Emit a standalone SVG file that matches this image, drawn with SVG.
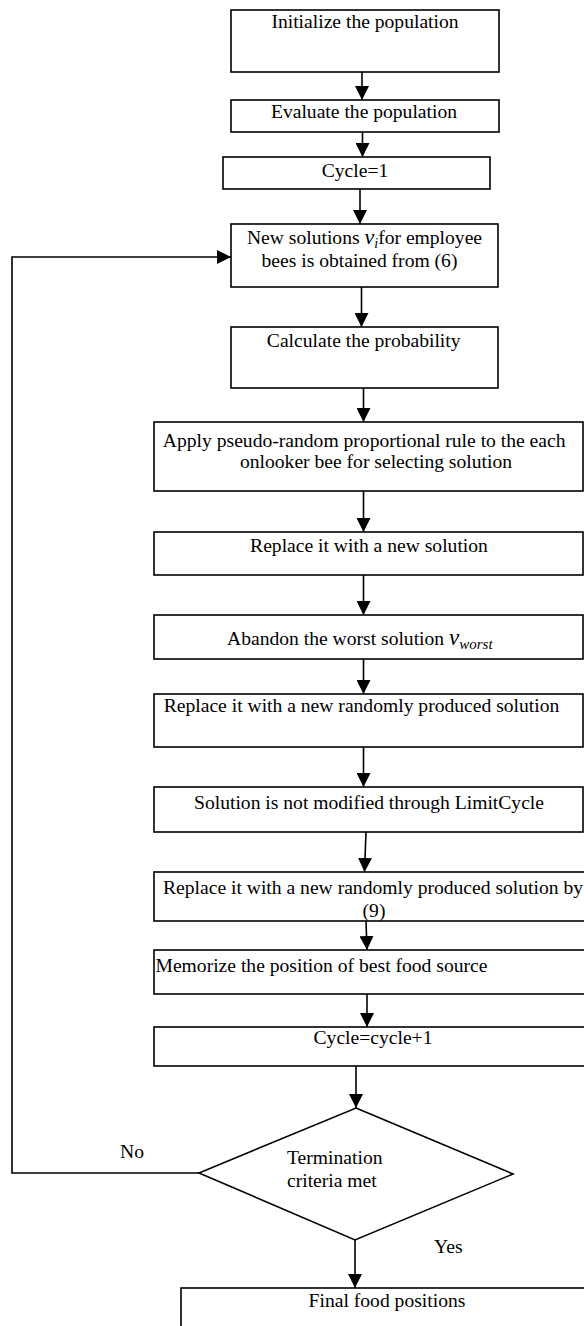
<svg xmlns="http://www.w3.org/2000/svg" width="584" height="1326" viewBox="0 0 584 1326">
<style>
.box{fill:#fff;stroke:#000;stroke-width:1.6}
.ln{fill:none;stroke:#000;stroke-width:1.6}
text{font-family:"Liberation Serif","Times New Roman",serif;font-size:19.6px;fill:#000}
.m{text-anchor:middle}
.it{font-style:italic}
</style>
<defs>
<marker id="ah" markerUnits="userSpaceOnUse" markerWidth="14" markerHeight="14" viewBox="0 0 14 14" refX="14" refY="7" orient="auto">
<path d="M0,0 L14,7 L0,14 Z" fill="#000"/>
</marker>
</defs>
<rect width="584" height="1326" fill="#fff"/>
<g id="connectors">
<line class="ln" x1="362" y1="72" x2="362" y2="100" marker-end="url(#ah)"/>
<line class="ln" x1="362.5" y1="132" x2="362.5" y2="157" marker-end="url(#ah)"/>
<line class="ln" x1="360" y1="189" x2="360" y2="224" marker-end="url(#ah)"/>
<line class="ln" x1="361.5" y1="287" x2="361.5" y2="327" marker-end="url(#ah)"/>
<line class="ln" x1="363.5" y1="388" x2="363.5" y2="422" marker-end="url(#ah)"/>
<line class="ln" x1="363.5" y1="491" x2="363.5" y2="532" marker-end="url(#ah)"/>
<line class="ln" x1="363.5" y1="575" x2="363.5" y2="615" marker-end="url(#ah)"/>
<line class="ln" x1="363.5" y1="659" x2="363.5" y2="694" marker-end="url(#ah)"/>
<line class="ln" x1="363.5" y1="747" x2="363.5" y2="787" marker-end="url(#ah)"/>
<line class="ln" x1="366" y1="832" x2="364.5" y2="872" marker-end="url(#ah)"/>
<line class="ln" x1="366" y1="921" x2="367" y2="950" marker-end="url(#ah)"/>
<line class="ln" x1="367" y1="994" x2="367" y2="1027" marker-end="url(#ah)"/>
<line class="ln" x1="356" y1="1066" x2="356" y2="1108" marker-end="url(#ah)"/>
<line class="ln" x1="355" y1="1240" x2="355" y2="1288" marker-end="url(#ah)"/>
<polyline class="ln" points="199,1173 12,1173 12,257 231,257" marker-end="url(#ah)"/>
<text x="132" y="1158" class="m">No</text>
<text x="434" y="1253">Yes</text>
</g>
<g id="init">
<rect class="box" x="231" y="10" width="268" height="62"/>
<text x="365" y="28" class="m">Initialize the population</text>
</g>
<g id="evaluate">
<rect class="box" x="231" y="100" width="268" height="32"/>
<text x="364" y="118" class="m">Evaluate the population</text>
</g>
<g id="cycle1">
<rect class="box" x="223" y="157" width="267" height="32"/>
<text x="355" y="177" class="m">Cycle=1</text>
</g>
<g id="newsol">
<rect class="box" x="231" y="224" width="267" height="63"/>
<text x="364.5" y="244" class="m">New solutions <tspan class="it" font-size="22">v</tspan><tspan class="it" font-size="14" dy="4">i</tspan><tspan dy="-4">for employee</tspan></text>
<text x="359.5" y="267" class="m">bees is obtained from (6)</text>
</g>
<g id="prob">
<rect class="box" x="231" y="327" width="267" height="61"/>
<text x="363.7" y="347" class="m">Calculate the probability</text>
</g>
<g id="apply">
<rect class="box" x="154" y="422" width="429" height="69"/>
<text x="364.2" y="446.7" class="m">Apply pseudo-random proportional rule to the each</text>
<text x="376" y="468.3" class="m">onlooker bee for selecting solution</text>
</g>
<g id="replace1">
<rect class="box" x="154" y="532" width="429" height="43"/>
<text x="369" y="552" class="m">Replace it with a new solution</text>
</g>
<g id="abandon">
<rect class="box" x="154" y="615" width="429" height="44"/>
<text x="227" y="645">Abandon the worst solution <tspan class="it" font-size="23">v</tspan><tspan class="it" font-size="15" dy="4">worst</tspan></text>
</g>
<g id="replace2">
<rect class="box" x="154" y="694" width="429" height="53"/>
<text x="361.5" y="712" class="m">Replace it with a new randomly produced solution</text>
</g>
<g id="notmod">
<rect class="box" x="154" y="787" width="429" height="45"/>
<text x="369" y="809" class="m">Solution is not modified through LimitCycle</text>
</g>
<g id="replace9">
<rect class="box" x="154" y="872" width="440" height="49"/>
<text x="163" y="894">Replace it with a new randomly produced solution by</text>
<text x="374" y="917" class="m">(9)</text>
</g>
<g id="memorize">
<rect class="box" x="154" y="950" width="440" height="44"/>
<text x="155.5" y="972">Memorize the position of best food source</text>
</g>
<g id="cycleinc">
<rect class="box" x="154" y="1027" width="440" height="39"/>
<text x="373" y="1044" class="m">Cycle=cycle+1</text>
</g>
<g id="termination">
<polygon class="box" points="356,1108 513,1174 355,1240 199,1173"/>
<text x="287" y="1164">Termination</text>
<text x="287" y="1187">criteria met</text>
</g>
<g id="final">
<rect class="box" x="181" y="1288" width="420" height="60"/>
<text x="387" y="1307" class="m">Final food positions</text>
</g>
</svg>
